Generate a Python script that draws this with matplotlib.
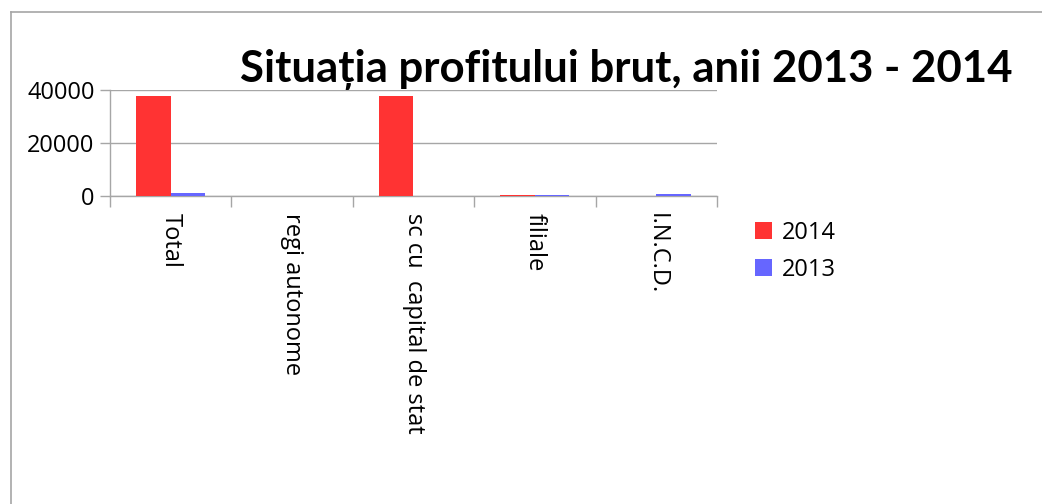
import numpy as np
import matplotlib
matplotlib.use('Agg')
import matplotlib.pyplot as plt
from matplotlib.lines import Line2D

# ----------------------------
# Datos
# ----------------------------
categorii = ['Total', 'regi autonome', 'sc cu  capital de stat', 'filiale', 'I.N.C.D.']
profit_2014 = [37700, 0, 37700, 250, 0]
profit_2013 = [1250, 0, 150, 200, 900]
serii = ['2014', '2013']
y_ticks = [0, 20000, 40000]

ROSU = '#FF3333'
ALBASTRU = '#6666FF'
GRI = '#A6A6A6'

plt.rcParams['font.family'] = ['Open Sans', 'DejaVu Sans']

# ----------------------------
# Figura
# ----------------------------
fig = plt.figure(figsize=(10.42, 5.04), dpi=100)
ax = fig.add_axes([110 / 1042, 1 - 196 / 504, (717 - 110) / 1042, 106 / 504])

x = np.arange(len(categorii))
w = 0.285
ax.bar(x - w / 2, profit_2014, width=w, color=ROSU, label=serii[0], zorder=3)
ax.bar(x + w / 2, profit_2013, width=w, color=ALBASTRU, label=serii[1], zorder=3)

ax.set_xlim(-0.5, len(categorii) - 0.5)
ax.set_ylim(0, 40000)
ax.set_yticks(y_ticks)
ax.set_yticklabels([str(v) for v in y_ticks], fontsize=17)
ax.yaxis.grid(True, color=GRI, linewidth=1, zorder=0)

ax.set_xticks(x)
ax.set_xticklabels(categorii, rotation=-90, fontsize=17, va='top', ha='center')
ax.set_xticks(np.arange(len(categorii) + 1) - 0.5, minor=True)
ax.tick_params(axis='x', which='major', length=0, pad=12)
ax.tick_params(axis='x', which='minor', length=8, color=GRI, width=1)
ax.tick_params(axis='y', length=7, color=GRI, width=1, pad=4)

for s in ['top', 'right']:
    ax.spines[s].set_visible(False)
for s in ['left', 'bottom']:
    ax.spines[s].set_color(GRI)
    ax.spines[s].set_linewidth(1)

# ----------------------------
# Titlu si legenda
# ----------------------------
fig.text(626 / 1042, 1 - 69 / 504, 'Situația profitului brut, anii 2013 - 2014',
         fontsize=31.5, fontweight='bold', ha='center', va='center',
         family=['Lato', 'DejaVu Sans'])

leg = fig.legend(loc='upper left', bbox_to_anchor=(755 / 1042, 1 - 221 / 504),
                 frameon=False, fontsize=17, handlelength=0.7, handleheight=0.7,
                 handletextpad=0.45, labelspacing=0.55, borderpad=0, borderaxespad=0)

# chenar exterior (doar sus si stanga)
fig.add_artist(Line2D([11 / 1042, 1], [1 - 12 / 504, 1 - 12 / 504], color=GRI, linewidth=1.2))
fig.add_artist(Line2D([11 / 1042, 11 / 1042], [0, 1 - 12 / 504], color=GRI, linewidth=1.2))

fig.savefig('out.png', dpi=100)
